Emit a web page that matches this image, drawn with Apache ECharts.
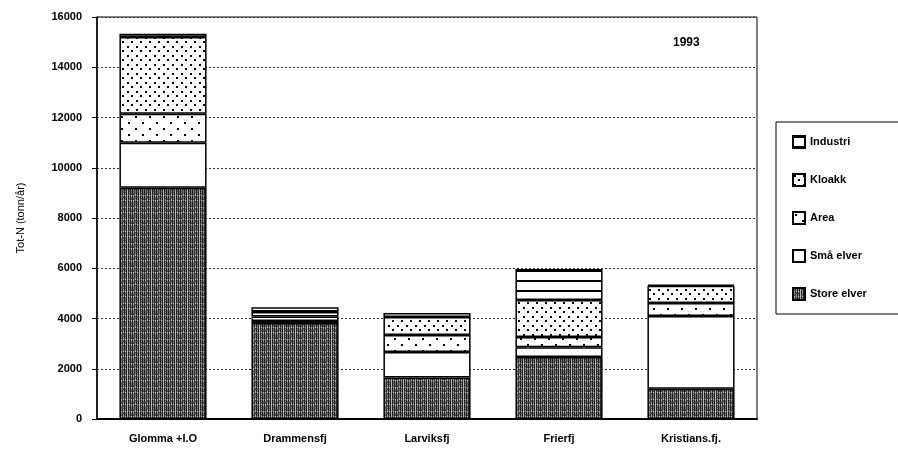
<!DOCTYPE html>
<html>
<head>
<meta charset="utf-8">
<script src="https://cdn.jsdelivr.net/npm/echarts@6/dist/echarts.min.js"></script>
<style>
    html, body { margin: 0; padding: 0; background: #fff; }
    #chart { width: 898px; height: 458px; }
</style>
</head>
<body>
<div id="chart"></div>
<script>
// data (tonn/år)
var categories = ['Glomma +I.O', 'Drammensfj', 'Larviksfj', 'Frierfj', 'Kristians.fj.'];
var storeElver = [9200, 3820, 1650, 2470, 1200];
var smaElver = [1800, 80, 1020, 390, 2900];
var area = [1150, 180, 670, 400, 520];
var kloakk = [3050, 180, 720, 1480, 680];
var industri = [130, 190, 160, 1230, 40];
var yTicks = [0, 2000, 4000, 6000, 8000, 10000, 12000, 14000, 16000];

// fill patterns
function makePattern(w, h, draw) {
    var c = document.createElement('canvas');
    c.width = w;
    c.height = h;
    var ctx = c.getContext('2d');
    ctx.fillStyle = '#fff';
    ctx.fillRect(0, 0, w, h);
    draw(ctx);
    return { image: c, repeat: 'repeat' };
}

var patStore = makePattern(12, 12, function(ctx) {
    for (var x = 0; x < 12; x++) {
        for (var y = 0; y < 12; y++) {
            var v = (x * 7 + y * 13 + x * y) % 5;
            var g = (x % 2 == 0) ? 20 + v * 10 : 70 + v * 28;
            ctx.fillStyle = 'rgb(' + g + ',' + g + ',' + g + ')';
            ctx.fillRect(x, y, 1, 1);
        }
    }
});
var patKloakk = makePattern(9, 9, function(ctx) {
    ctx.fillStyle = '#000';
    ctx.fillRect(1, 1, 2, 2);
    ctx.fillRect(5, 5, 2, 2);
});
var patArea = makePattern(14, 12, function(ctx) {
    ctx.fillStyle = '#000';
    ctx.fillRect(2, 2, 2, 2);
    ctx.fillRect(9, 8, 2, 2);
});
var patIndustri = makePattern(10, 10, function(ctx) {
    ctx.fillStyle = '#000';
    ctx.fillRect(0, 0, 10, 2);
});

var myChart = echarts.init(document.getElementById('chart'));

function bar(name, data, fill) {
    return {
        name: name,
        type: 'bar',
        stack: 'tot',
        barWidth: '66%',
        data: data,
        itemStyle: {
            color: fill,
            borderColor: '#000',
            borderWidth: 1.5
        }
    };
}

var option = {
    animation: false,
    textStyle: { fontFamily: 'Liberation Sans, Arial, sans-serif' },
    title: {
        text: '1993',
        left: 668,
        top: 32,
        textStyle: { fontSize: 12, fontWeight: 'bold', color: '#000' }
    },
    legend: {
        orient: 'vertical',
        left: 776,
        top: 122,
        padding: [13, 60, 13, 16],
        itemGap: 24,
        itemWidth: 12,
        itemHeight: 12,
        borderColor: '#000',
        borderWidth: 1,
        icon: 'rect',
        textStyle: { fontSize: 11, fontWeight: 'bold', color: '#000' },
        data: ['Industri', 'Kloakk', 'Area', 'Små elver', 'Store elver']
    },
    grid: {
        left: 97,
        right: 141,
        top: 17,
        bottom: 39,
        show: true,
        borderColor: '#000',
        borderWidth: 1
    },
    xAxis: {
        type: 'category',
        data: categories,
        axisLine: { lineStyle: { color: '#000', width: 2 } },
        axisTick: { lineStyle: { color: '#000' }, length: 5 },
        axisLabel: { color: '#000', fontSize: 11, fontWeight: 'bold', margin: 14 }
    },
    yAxis: {
        type: 'value',
        min: yTicks[0],
        max: yTicks[yTicks.length - 1],
        interval: yTicks[1] - yTicks[0],
        name: 'Tot-N (tonn/år)',
        nameLocation: 'middle',
        nameGap: 71,
        nameTextStyle: { fontSize: 11, color: '#000' },
        axisLine: { show: true, lineStyle: { color: '#000', width: 1.5 } },
        axisTick: { show: true, inside: false, length: 5, lineStyle: { color: '#000' } },
        axisLabel: {
            color: '#000',
            fontSize: 11,
            fontWeight: 'bold',
            margin: 15,
            formatter: function(v) { return String(v); }
        },
        splitLine: { lineStyle: { color: '#333', type: [2, 2], width: 1 } }
    },
    series: [
        bar('Store elver', storeElver, patStore),
        bar('Små elver', smaElver, '#fff'),
        bar('Area', area, patArea),
        bar('Kloakk', kloakk, patKloakk),
        bar('Industri', industri, patIndustri)
    ]
};
myChart.setOption(option);
</script>
</body>
</html>
